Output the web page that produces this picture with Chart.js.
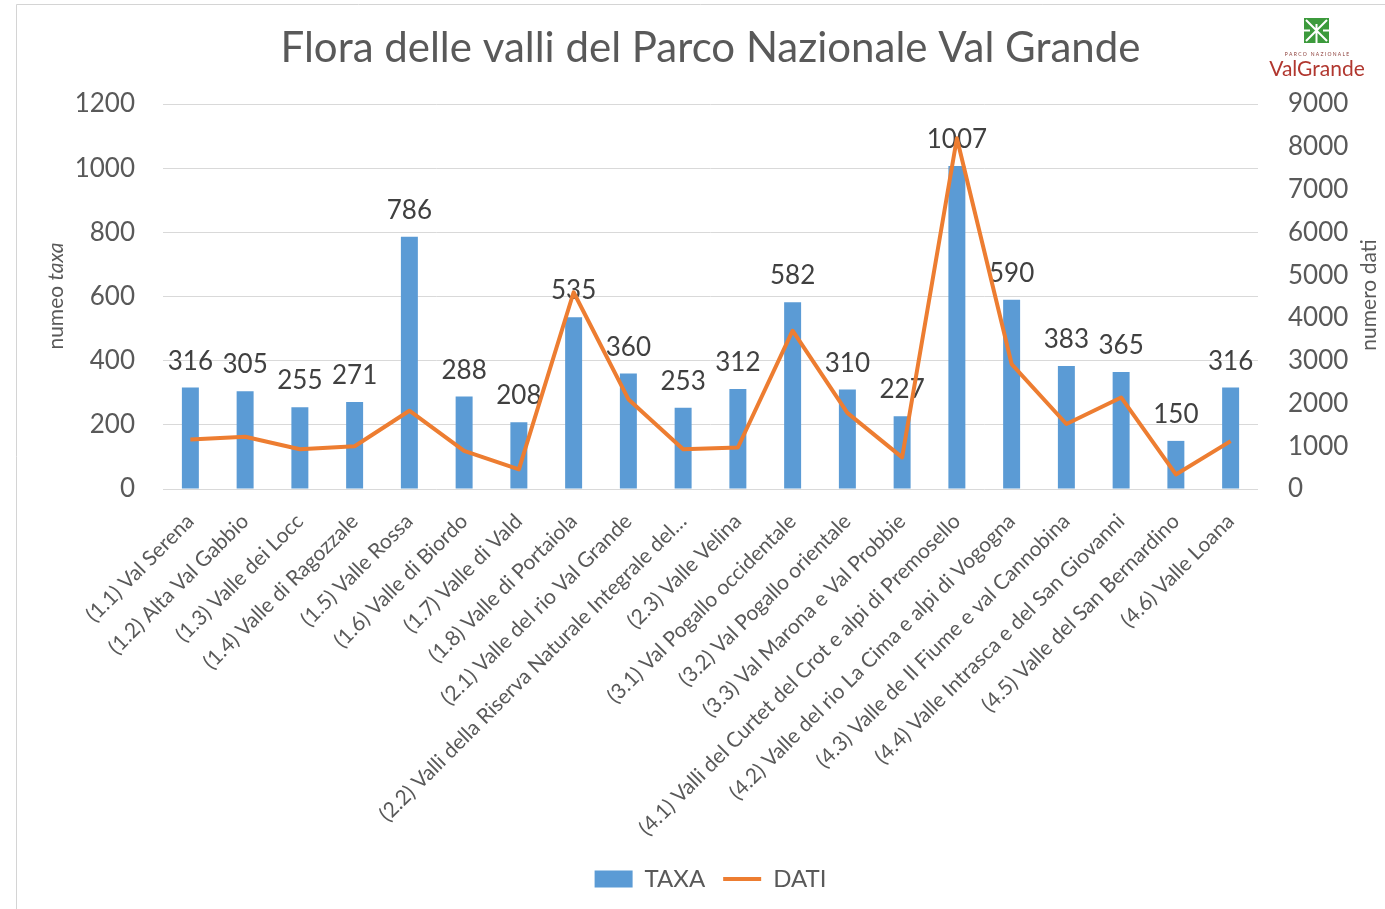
<!DOCTYPE html>
<html>
<head>
<meta charset="utf-8">
<script src="https://cdn.jsdelivr.net/npm/chart.js@4.4.0/dist/chart.umd.min.js"></script>
<style>
  html, body { margin: 0; padding: 0; background: #fff; }
  #wrap { width: 1385px; height: 909px; }
</style>
</head>
<body>
<div id="wrap"><canvas id="chart" width="1385" height="909"></canvas></div>
<script>
// categorie (valli)
const categories = [
  '(1.1) Val Serena',
  '(1.2) Alta Val Gabbio',
  '(1.3) Valle dei Locc',
  '(1.4) Valle di Ragozzale',
  '(1.5) Valle Rossa',
  '(1.6) Valle di Biordo',
  '(1.7) Valle di Vald',
  '(1.8) Valle di Portaiola',
  '(2.1) Valle del rio Val Grande',
  '(2.2) Valli della Riserva Naturale Integrale del…',
  '(2.3) Valle Velina',
  '(3.1) Val Pogallo occidentale',
  '(3.2) Val Pogallo orientale',
  '(3.3) Val Marona e Val Probbie',
  '(4.1) Valli del Curtet del Crot e alpi di Premosello',
  '(4.2) Valle del rio La Cima e alpi di Vogogna',
  '(4.3) Valle de Il Fiume e val Cannobina',
  '(4.4) Valle Intrasca e del San Giovanni',
  '(4.5) Valle del San Bernardino',
  '(4.6) Valle Loana'
];

// numero taxa (asse sinistro)
const taxa = [316, 305, 255, 271, 786, 288, 208, 535, 360, 253, 312, 582, 310, 227, 1007, 590, 383, 365, 150, 316];

// numero dati (asse destro) - stimati dal grafico
const dati = [1160, 1220, 930, 1000, 1830, 890, 460, 4600, 2100, 930, 970, 3700, 1780, 740, 8200, 2920, 1520, 2140, 340, 1120];

// tacche degli assi
const taxaTicks = { min: 0, max: 1200, step: 200 };
const datiTicks = { min: 0, max: 9000, step: 1000 };

const FONT = 'Lato, "Open Sans", sans-serif';
const GREY = '#595959';

// sfondo, bordo, titolo, titoli assi e logo
const decorations = {
  id: 'decorations',
  beforeDraw(chart) {
    const ctx = chart.ctx;
    ctx.save();
    ctx.fillStyle = '#fff';
    ctx.fillRect(0, 0, chart.width, chart.height);
    ctx.strokeStyle = '#d4d4d4';
    ctx.lineWidth = 1;
    ctx.beginPath();
    ctx.moveTo(16.5, chart.height);
    ctx.lineTo(16.5, 4.5);
    ctx.lineTo(chart.width, 4.5);
    ctx.stroke();
    ctx.restore();
  },
  afterDraw(chart) {
    const ctx = chart.ctx;
    const area = chart.chartArea;
    ctx.save();

    // titolo
    ctx.fillStyle = GREY;
    ctx.font = '42px ' + FONT;
    ctx.textAlign = 'center';
    ctx.textBaseline = 'alphabetic';
    ctx.fillText('Flora delle valli del Parco Nazionale Val Grande', (area.left + area.right) / 2, 62);

    // titolo asse sinistro: "numeo " + "taxa" in corsivo
    ctx.save();
    ctx.translate(56, 296);
    ctx.rotate(-Math.PI / 2);
    ctx.textAlign = 'left';
    ctx.textBaseline = 'middle';
    ctx.font = '21px ' + FONT;
    const w1 = ctx.measureText('numeo ').width;
    ctx.font = 'italic 21px ' + FONT;
    const w2 = ctx.measureText('taxa').width;
    const start = -(w1 + w2) / 2;
    ctx.font = '21px ' + FONT;
    ctx.fillText('numeo ', start, 0);
    ctx.font = 'italic 21px ' + FONT;
    ctx.fillText('taxa', start + w1, 0);
    ctx.restore();

    // titolo asse destro
    ctx.save();
    ctx.translate(1369, 295);
    ctx.rotate(-Math.PI / 2);
    ctx.textAlign = 'center';
    ctx.textBaseline = 'middle';
    ctx.font = '21px ' + FONT;
    ctx.fillText('numero dati', 0, 0);
    ctx.restore();

    // logo Parco Nazionale Val Grande
    ctx.fillStyle = '#3c9a3c';
    ctx.fillRect(1304, 18, 25, 25);
    ctx.strokeStyle = '#fff';
    ctx.lineWidth = 2;
    ctx.beginPath();
    ctx.moveTo(1306, 20); ctx.lineTo(1327, 41);
    ctx.moveTo(1327, 20); ctx.lineTo(1306, 41);
    ctx.moveTo(1316.5, 24); ctx.lineTo(1316.5, 43);
    ctx.moveTo(1304, 30.5); ctx.lineTo(1310, 30.5);
    ctx.moveTo(1323, 30.5); ctx.lineTo(1329, 30.5);
    ctx.stroke();
    ctx.fillStyle = '#8a3b36';
    ctx.font = '5px ' + FONT;
    ctx.textAlign = 'center';
    ctx.textBaseline = 'alphabetic';
    ctx.fillText('P A R C O   N A Z I O N A L E', 1317, 56);
    ctx.fillStyle = '#b1372f';
    ctx.font = '21px ' + FONT;
    ctx.fillText('ValGrande', 1317, 76);
    ctx.restore();
  }
};

// etichette dei valori sopra le barre (sotto la linea)
const barLabels = {
  id: 'barLabels',
  afterDatasetDraw(chart, args) {
    if (args.index !== 0) return;
    const ctx = chart.ctx;
    ctx.save();
    ctx.font = '26px ' + FONT;
    ctx.fillStyle = '#404040';
    ctx.textAlign = 'center';
    ctx.textBaseline = 'alphabetic';
    args.meta.data.forEach((bar, i) => {
      ctx.fillText(String(taxa[i]), bar.x, bar.y - 18);
    });
    ctx.restore();
  }
};

new Chart(document.getElementById('chart'), {
  data: {
    labels: categories,
    datasets: [
      {
        type: 'bar',
        label: 'TAXA',
        data: taxa,
        yAxisID: 'y',
        backgroundColor: '#5b9bd5',
        borderWidth: 0,
        barPercentage: 0.31,
        categoryPercentage: 1,
        pointStyle: 'rect',
        order: 1
      },
      {
        type: 'line',
        label: 'DATI',
        data: dati,
        yAxisID: 'y1',
        borderColor: '#ed7d31',
        backgroundColor: '#ed7d31',
        borderWidth: 4,
        pointRadius: 0,
        tension: 0,
        pointStyle: 'line',
        borderJoinStyle: 'round',
        order: 0
      }
    ]
  },
  options: {
    responsive: false,
    animation: false,
    layout: { padding: { top: 104, bottom: 8, left: 0, right: 0 } },
    scales: {
      x: {
        grid: { display: false, drawTicks: false },
        border: { display: false },
        ticks: {
          autoSkip: false,
          minRotation: 45,
          maxRotation: 45,
          padding: 20,
          color: GREY,
          font: { family: FONT, size: 21 }
        },
        afterFit(scale) { scale.height = 360; }
      },
      y: {
        position: 'left',
        min: taxaTicks.min,
        max: taxaTicks.max,
        grid: { color: '#d9d9d9', drawTicks: false },
        border: { display: false },
        ticks: {
          stepSize: taxaTicks.step,
          padding: 28,
          color: GREY,
          font: { family: FONT, size: 26 },
          callback: v => String(v)
        },
        afterFit(scale) { scale.width = 163; }
      },
      y1: {
        position: 'right',
        min: datiTicks.min,
        max: datiTicks.max,
        grid: { display: false, drawTicks: false },
        border: { display: false },
        ticks: {
          stepSize: datiTicks.step,
          padding: 30,
          color: GREY,
          font: { family: FONT, size: 26 },
          callback: v => String(v)
        },
        afterFit(scale) { scale.width = 127; }
      }
    },
    plugins: {
      title: { display: false },
      tooltip: { enabled: false },
      legend: {
        display: true,
        position: 'bottom',
        fullSize: false,
        labels: {
          usePointStyle: true,
          pointStyleWidth: 38,
          boxHeight: 17,
          padding: 18,
          color: GREY,
          font: { family: FONT, size: 24 },
          sort: (a, b) => a.datasetIndex - b.datasetIndex
        }
      }
    }
  },
  plugins: [decorations, barLabels]
});
</script>
</body>
</html>
